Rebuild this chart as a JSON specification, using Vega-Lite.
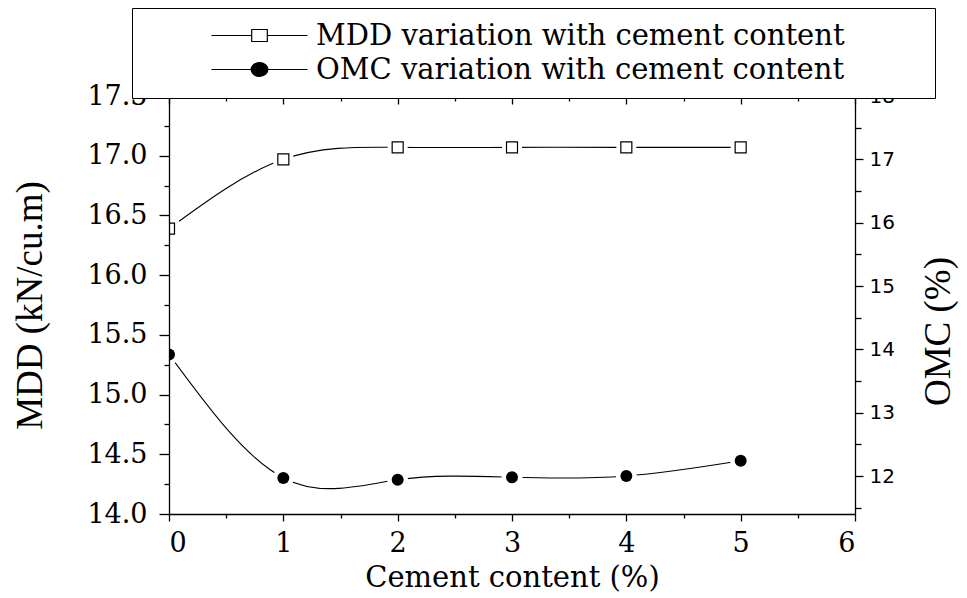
{
  "$schema": "https://vega.github.io/schema/vega-lite/v6.json",
  "width": 686,
  "height": 418,
  "autosize": {"type": "none"},
  "padding": {"left": 169, "top": 96, "right": 112, "bottom": 84},
  "background": "white",
  "config": {
    "view": {"stroke": null},
    "axis": {
      "grid": false,
      "domainColor": "black",
      "tickColor": "black",
      "labelColor": "black",
      "titleColor": "black",
      "domainWidth": 1.3,
      "tickWidth": 1.3,
      "labelOverlap": false,
      "titleFontWeight": "normal"
    }
  },
  "data": {
    "values": [
      {"c": 0, "series": "MDD variation with cement content", "v": 16.39},
      {"c": 1, "series": "MDD variation with cement content", "v": 16.97},
      {"c": 2, "series": "MDD variation with cement content", "v": 17.07},
      {"c": 3, "series": "MDD variation with cement content", "v": 17.07},
      {"c": 4, "series": "MDD variation with cement content", "v": 17.07},
      {"c": 5, "series": "MDD variation with cement content", "v": 17.07},
      {"c": 0, "series": "OMC variation with cement content", "v": 13.92},
      {"c": 1, "series": "OMC variation with cement content", "v": 11.97},
      {"c": 2, "series": "OMC variation with cement content", "v": 11.94},
      {"c": 3, "series": "OMC variation with cement content", "v": 11.98},
      {"c": 4, "series": "OMC variation with cement content", "v": 12.0},
      {"c": 5, "series": "OMC variation with cement content", "v": 12.24}
    ]
  },
  "layer": [
    {
      "transform": [{"filter": "datum.series === 'MDD variation with cement content'"}],
      "mark": {"type": "line", "interpolate": "natural", "color": "black", "strokeWidth": 1.1, "clip": true},
      "encoding": {
        "x": {
          "field": "c", "type": "quantitative",
          "scale": {"domain": [0, 6], "nice": false},
          "axis": {
            "orient": "bottom", "values": [0, 1, 2, 3, 4, 5, 6], "format": "d",
            "tickSize": 7, "labelPadding": 9,
            "labelFont": "DejaVu Serif", "labelFontSize": 27,
            "title": "Cement content (%)", "titleFont": "DejaVu Serif", "titleFontSize": 29,
            "titleY": 72, "titleBaseline": "alphabetic", "zindex": 1
          }
        },
        "y": {
          "field": "v", "type": "quantitative",
          "scale": {"domain": [14, 17.5], "nice": false, "zero": false},
          "axis": {
            "orient": "left", "values": [14, 14.5, 15, 15.5, 16, 16.5, 17, 17.5], "format": ".1f",
            "tickSize": 10, "labelPadding": 12,
            "labelFont": "DejaVu Serif", "labelFontSize": 27,
            "title": "MDD (kN/cu.m)", "titleFont": "Liberation Serif", "titleFontSize": 37,
            "titleAngle": 270, "titleX": -128, "titleY": 209, "titleAlign": "center", "titleBaseline": "alphabetic",
            "zindex": 1
          }
        }
      }
    },
    {
      "transform": [{"filter": "datum.series === 'MDD variation with cement content'"}],
      "mark": {"type": "point", "shape": "square", "filled": true, "color": "white", "opacity": 1, "size": 400, "strokeWidth": 0, "clip": true},
      "encoding": {
        "x": {
          "field": "c", "type": "quantitative",
          "scale": {"domain": [0, 6], "nice": false},
          "axis": {"orient": "top", "values": [0, 1, 2, 3, 4, 5, 6], "tickSize": -8, "labels": false, "title": null, "domain": true}
        },
        "y": {
          "field": "v", "type": "quantitative",
          "scale": {"domain": [14, 17.5], "nice": false, "zero": false},
          "axis": null
        }
      }
    },
    {
      "transform": [{"filter": "datum.series === 'MDD variation with cement content'"}],
      "mark": {"type": "point", "shape": "square", "filled": false, "fill": "white", "stroke": "black", "strokeWidth": 1.2, "opacity": 1, "size": 121, "clip": true},
      "encoding": {
        "x": {
          "field": "c", "type": "quantitative",
          "scale": {"domain": [0, 6], "nice": false},
          "axis": {"orient": "bottom", "values": [0.5, 1.5, 2.5, 3.5, 4.5, 5.5], "tickSize": 4, "labels": false, "title": null, "domain": false}
        },
        "y": {
          "field": "v", "type": "quantitative",
          "scale": {"domain": [14, 17.5], "nice": false, "zero": false},
          "axis": {"orient": "left", "values": [14.25, 14.75, 15.25, 15.75, 16.25, 16.75, 17.25], "tickSize": 5, "labels": false, "title": null, "domain": false}
        }
      }
    },
    {
      "transform": [{"filter": "datum.series === 'OMC variation with cement content'"}],
      "mark": {"type": "line", "interpolate": "natural", "color": "black", "strokeWidth": 1.1, "clip": true},
      "encoding": {
        "x": {
          "field": "c", "type": "quantitative",
          "scale": {"domain": [0, 6], "nice": false},
          "axis": {"orient": "top", "values": [0.5, 1.5, 2.5, 3.5, 4.5, 5.5], "tickSize": -5, "labels": false, "title": null, "domain": false}
        },
        "y": {
          "field": "v", "type": "quantitative",
          "scale": {"domain": [11.4, 18], "nice": false, "zero": false},
          "axis": {
            "orient": "right", "values": [12, 13, 14, 15, 16, 17, 18], "format": "d",
            "tickSize": 8, "labelPadding": 6,
            "labelFont": "DejaVu Sans", "labelFontSize": 20,
            "title": "OMC (%)", "titleFont": "Liberation Serif", "titleFontSize": 37,
            "titleAngle": 270, "titleX": 94, "titleY": 235, "titleAlign": "center", "titleBaseline": "alphabetic",
            "zindex": 1
          }
        }
      }
    },
    {
      "transform": [{"filter": "datum.series === 'OMC variation with cement content'"}],
      "mark": {"type": "point", "shape": "circle", "filled": true, "color": "white", "opacity": 1, "size": 441, "strokeWidth": 0, "clip": true},
      "encoding": {
        "x": {"field": "c", "type": "quantitative", "scale": {"domain": [0, 6], "nice": false}, "axis": null},
        "y": {
          "field": "v", "type": "quantitative",
          "scale": {"domain": [11.4, 18], "nice": false, "zero": false},
          "axis": {"orient": "right", "values": [11.5, 12.5, 13.5, 14.5, 15.5, 16.5, 17.5], "tickSize": 6, "labels": false, "title": null, "domain": false}
        }
      }
    },
    {
      "transform": [{"filter": "datum.series === 'OMC variation with cement content'"}],
      "mark": {"type": "point", "shape": "circle", "filled": true, "color": "black", "opacity": 1, "size": 143, "clip": true},
      "encoding": {
        "x": {"field": "c", "type": "quantitative", "scale": {"domain": [0, 6], "nice": false}, "axis": null},
        "y": {"field": "v", "type": "quantitative", "scale": {"domain": [11.4, 18], "nice": false, "zero": false}, "axis": null}
      }
    },
    {
      "mark": {"type": "point", "opacity": 0, "stroke": "black", "strokeWidth": 1.2},
      "encoding": {
        "shape": {
          "field": "series", "type": "nominal",
          "scale": {
            "domain": ["MDD variation with cement content", "OMC variation with cement content"],
            "range": [
              "M-8,0H-1.3M1.3,0H8M-1.3,-1H1.3V1H-1.3Z",
              "M-8,0H-1.4M1.4,0H8M-1.4,0A1.4,1.15 0 1,0 1.4,0A1.4,1.15 0 1,0 -1.4,0Z"
            ]
          },
          "legend": {
            "orient": "none", "legendX": -37, "legendY": -88, "title": null, "direction": "vertical",
            "fillColor": "white", "strokeColor": "black", "padding": 13,
            "labelFont": "DejaVu Serif", "labelFontSize": 29, "labelColor": "black", "labelLimit": 2000,
            "labelOffset": 42, "symbolOffset": 100, "symbolSize": 144,
            "symbolStrokeColor": "black", "symbolStrokeWidth": 1.2, "symbolOpacity": 1,
            "rowPadding": 4, "zindex": 2,
            "encode": {
              "symbols": {"update": {"stroke": {"value": "black"}, "strokeWidth": {"value": 1.2}, "opacity": {"value": 1}}},
              "labels": {"update": {"text": {"signal": "datum.label + '\u00a0\u00a0\u00a0\u00a0\u00a0\u00a0\u2800'"}}}
            }
          }
        },
        "fill": {
          "field": "series", "type": "nominal",
          "scale": {
            "domain": ["MDD variation with cement content", "OMC variation with cement content"],
            "range": ["white", "black"]
          },
          "legend": {
            "orient": "none", "legendX": -37, "legendY": -88, "title": null, "direction": "vertical",
            "fillColor": "white", "strokeColor": "black", "padding": 13,
            "labelFont": "DejaVu Serif", "labelFontSize": 29, "labelColor": "black", "labelLimit": 2000,
            "labelOffset": 42, "symbolOffset": 100, "symbolSize": 144,
            "symbolStrokeColor": "black", "symbolStrokeWidth": 1.2, "symbolOpacity": 1,
            "rowPadding": 4, "zindex": 2,
            "encode": {
              "symbols": {"update": {"stroke": {"value": "black"}, "strokeWidth": {"value": 1.2}, "opacity": {"value": 1}}},
              "labels": {"update": {"text": {"signal": "datum.label + '\u00a0\u00a0\u00a0\u00a0\u00a0\u00a0\u2800'"}}}
            }
          }
        }
      }
    }
  ],
  "resolve": {
    "scale": {"y": "independent"},
    "axis": {"x": "independent", "y": "independent"}
  }
}
